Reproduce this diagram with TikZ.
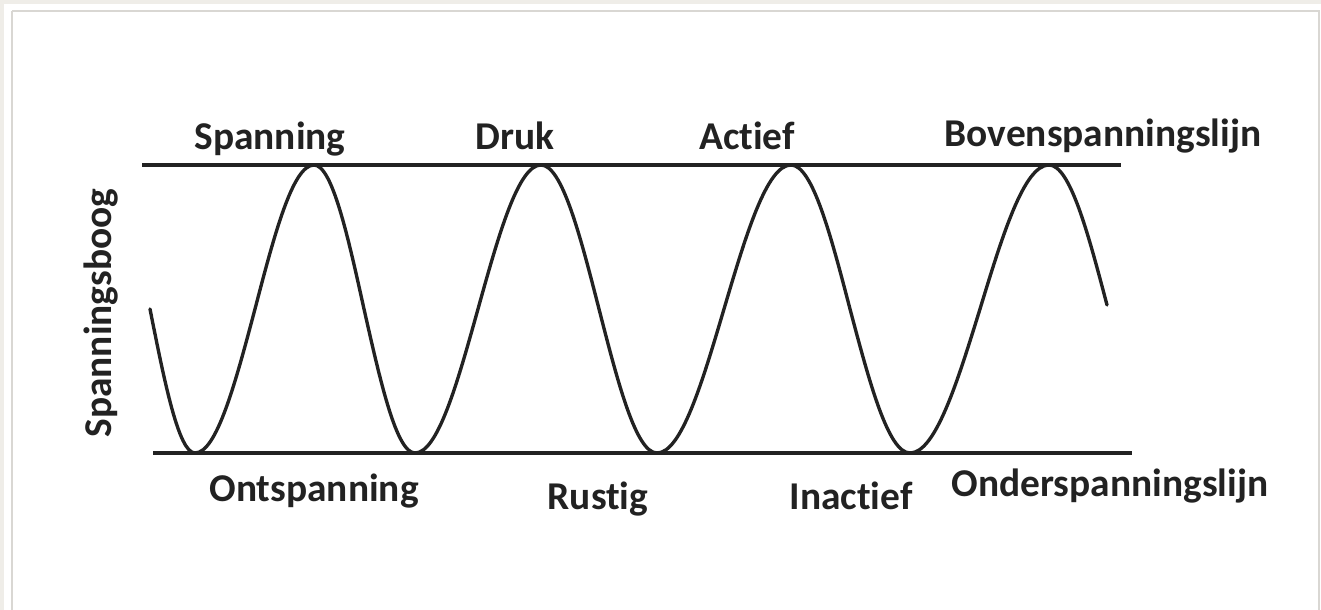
\documentclass[tikz,border=0pt]{standalone}
\usepackage{fontspec}
\setmainfont{Carlito}[Ligatures={NoCommon}]
\usepackage{tikz}
\usetikzlibrary{positioning,calc}
\definecolor{sink}{HTML}{222222}
\definecolor{sframe}{HTML}{D9D7D3}
\definecolor{sback}{HTML}{EFEDE8}
\tikzset{
  lijn/.style={draw=sink,line width=1.15pt},
  golf/.style={draw=sink,line width=0.95pt,line cap=round},
  lbl/.style={font=\fontsize{11.2}{13}\selectfont\bfseries,text=sink,inner sep=0pt,anchor=base},
}

\begin{document}
\begin{tikzpicture}[x=0.01cm,y=-0.01cm]
  % kader
  \useasboundingbox (0,0) rectangle (1321,610);
  \fill[sback] (0,0) rectangle (1321,610);
  \fill[white] (4,4) rectangle (1321,610);
  \draw[sframe,line width=0.6pt] (12,11) -- (1319,11) -- (1319,612) (12,11) -- (12,612);
  % lijnen
  \coordinate (bovA) at (142,165);
  \coordinate (bovB) at (1121,165);
  \coordinate (ondA) at (153,453);
  \coordinate (ondB) at (1132,453);
  \draw[lijn] (bovA) -- (bovB);
  \draw[lijn] (ondA) -- (ondB);
  % spanningsboog
  \draw[golf] (150,309) sin (195,453) cos (255,309) sin (314,165) cos (364,309)
    sin (415,453) cos (478,309) sin (541,165) cos (599,309)
    sin (657,453) cos (724,309) sin (791,165) cos (850,309)
    sin (910,453) cos (980,309) sin (1049,165) cos (1107,305);
  % labels boven
  \node[lbl] (spanning) at (270,150) {Spanning};
  \node[lbl] (druk) at (515,150) {Druk};
  \node[lbl] (actief) at (747,150) {Actief};
  \node[lbl] (boven) at (1103,147) {Bovenspanningslijn};
  % labels onder
  \node[lbl] (ontspanning) at (314,502) {Ontspanning};
  \node[lbl] (rustig) at (598,510) {Rustig};
  \node[lbl] (inactief) at (851,510) {Inactief};
  \node[lbl] (onder) at (1110,497) {Onderspanningslijn};
  % as
  \node[lbl,rotate=90] (boog) at (111,313) {Spanningsboog};
\end{tikzpicture}
\end{document}
